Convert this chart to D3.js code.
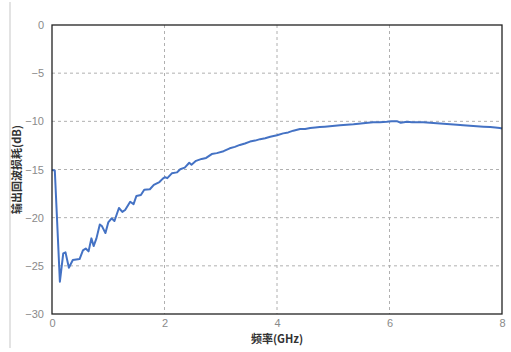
<!DOCTYPE html>
<html>
<head>
<meta charset="utf-8">
<script src="https://cdn.jsdelivr.net/npm/d3@7"></script>
<style>
  html, body { margin: 0; padding: 0; background: #fff; }
  svg { display: block; font-family: "Liberation Sans", Arial, "Noto Sans CJK SC", sans-serif; }
</style>
</head>
<body>
<svg id="chart" width="511" height="352"></svg>
<script>
// Output return loss vs. frequency
const freqGHz = [0, 0.05, 0.14, 0.2, 0.24, 0.30, 0.37, 0.49, 0.55, 0.60, 0.65, 0.70, 0.74, 0.79, 0.85, 0.89, 0.95, 1.00,
  1.06, 1.11, 1.19, 1.25, 1.30, 1.39, 1.45, 1.50, 1.58, 1.64, 1.74, 1.81, 1.91, 1.97, 2.01, 2.05, 2.13, 2.22, 2.28, 2.36,
  2.44, 2.48, 2.56, 2.66, 2.74, 2.84, 2.93, 3.05, 3.16, 3.25, 3.34, 3.43, 3.52, 3.61, 3.70, 3.79, 3.88, 4.00, 4.11, 4.20,
  4.29, 4.41, 4.50, 4.59, 4.68, 4.76, 4.85, 4.94, 5.03, 5.12, 5.24, 5.36, 5.45, 5.53, 5.62, 5.71, 5.83, 5.95, 6.04, 6.13,
  6.20, 6.31, 6.40, 6.48, 6.60, 6.72, 6.84, 6.96, 7.08, 7.20, 7.31, 7.43, 7.55, 7.67, 7.79, 7.88, 7.96, 8.0];
const returnLossDb = [-15.05, -15.1, -26.65, -23.7, -23.6, -25.2, -24.4, -24.3, -23.4, -23.2, -23.5, -22.15, -22.95, -22.15, -20.7, -20.9, -21.6, -20.5,
  -20.07, -20.35, -19.0, -19.4, -19.2, -18.35, -18.6, -17.75, -17.65, -17.1, -17.05, -16.6, -16.3, -15.95, -15.8, -15.9, -15.4, -15.3, -14.98, -14.8,
  -14.3, -14.5, -14.1, -13.9, -13.8, -13.4, -13.3, -13.1, -12.8, -12.65, -12.45, -12.3, -12.1, -12.0, -11.85, -11.75, -11.6, -11.45, -11.25, -11.15,
  -10.97, -10.8, -10.8, -10.7, -10.65, -10.6, -10.55, -10.5, -10.45, -10.4, -10.35, -10.3, -10.25, -10.2, -10.15, -10.1, -10.1, -10.05, -10.0, -9.98,
  -10.15, -10.05, -10.1, -10.1, -10.1, -10.15, -10.2, -10.25, -10.3, -10.35, -10.4, -10.45, -10.5, -10.55, -10.6, -10.65, -10.7, -10.75];

const xTicks = [0, 2, 4, 6, 8];
const yTicks = [0, -5, -10, -15, -20, -25, -30];
const xTitle = "频率(GHz)";
const yTitle = "输出回波损耗(dB)";

const svg = d3.select("#chart");
const margin = { left: 52, right: 9, top: 25, bottom: 38 };
const W = 511, H = 352;
const plotW = W - margin.left - margin.right;
const plotH = H - margin.top - margin.bottom;

// thin grey rule at the far left of the page
svg.append("line").attr("x1", 10).attr("x2", 10).attr("y1", 2).attr("y2", 348)
  .attr("stroke", "#e3e3e3").attr("stroke-width", 2);

const x = d3.scaleLinear().domain([0, 8]).range([0, plotW]);
const y = d3.scaleLinear().domain([-30, 0]).range([plotH, 0]);

const g = svg.append("g").attr("transform", `translate(${margin.left},${margin.top})`);

// dashed grid
g.append("g").selectAll("line").data(yTicks.filter(v => v !== 0 && v !== -30)).join("line")
  .attr("x1", 0).attr("x2", plotW).attr("y1", d => y(d)).attr("y2", d => y(d))
  .attr("stroke", "#b0b0b0").attr("stroke-width", 1).attr("stroke-dasharray", "3,3");
g.append("g").selectAll("line").data(xTicks.filter(v => v !== 0 && v !== 8)).join("line")
  .attr("x1", d => x(d)).attr("x2", d => x(d)).attr("y1", 0).attr("y2", plotH)
  .attr("stroke", "#b0b0b0").attr("stroke-width", 1).attr("stroke-dasharray", "3,3");

// axes (labels only)
const xAxis = g.append("g").attr("transform", `translate(0,${plotH})`)
  .call(d3.axisBottom(x).tickValues(xTicks).tickSize(0).tickPadding(5).tickFormat(d3.format("d")));
const yAxis = g.append("g")
  .call(d3.axisLeft(y).tickValues(yTicks).tickSize(0).tickPadding(8)
    .tickFormat(d => d < 0 ? "\u2212" + Math.abs(d) : String(d)));
[xAxis, yAxis].forEach(a => {
  a.select(".domain").remove();
  a.selectAll("text").attr("fill", "#8a8a8a").style("font-size", "11px")
    .style("font-family", "Liberation Sans, Arial, sans-serif");
});

// data line
const line = d3.line().x((d, i) => x(freqGHz[i])).y(d => y(d));
g.append("path").datum(returnLossDb).attr("d", line)
  .attr("fill", "none").attr("stroke", "#4472c4").attr("stroke-width", 2)
  .attr("stroke-linejoin", "round");

// plot frame
g.append("rect").attr("x", 0).attr("y", 0).attr("width", plotW).attr("height", plotH)
  .attr("fill", "none").attr("stroke", "#222").attr("stroke-width", 1.3);

// titles
svg.append("text").attr("x", margin.left + plotW / 2).attr("y", 343)
  .attr("text-anchor", "middle").attr("fill", "#333").style("font-size", "11px").style("font-weight", "bold")
  .style("font-family", "Noto Sans CJK SC, sans-serif")
  .text(xTitle);
svg.append("text").attr("transform", `translate(21,${margin.top + plotH / 2}) rotate(-90)`)
  .attr("text-anchor", "middle").attr("fill", "#333").style("font-size", "11px").style("font-weight", "bold")
  .style("font-family", "Noto Sans CJK SC, sans-serif")
  .text(yTitle);
</script>
</body>
</html>
